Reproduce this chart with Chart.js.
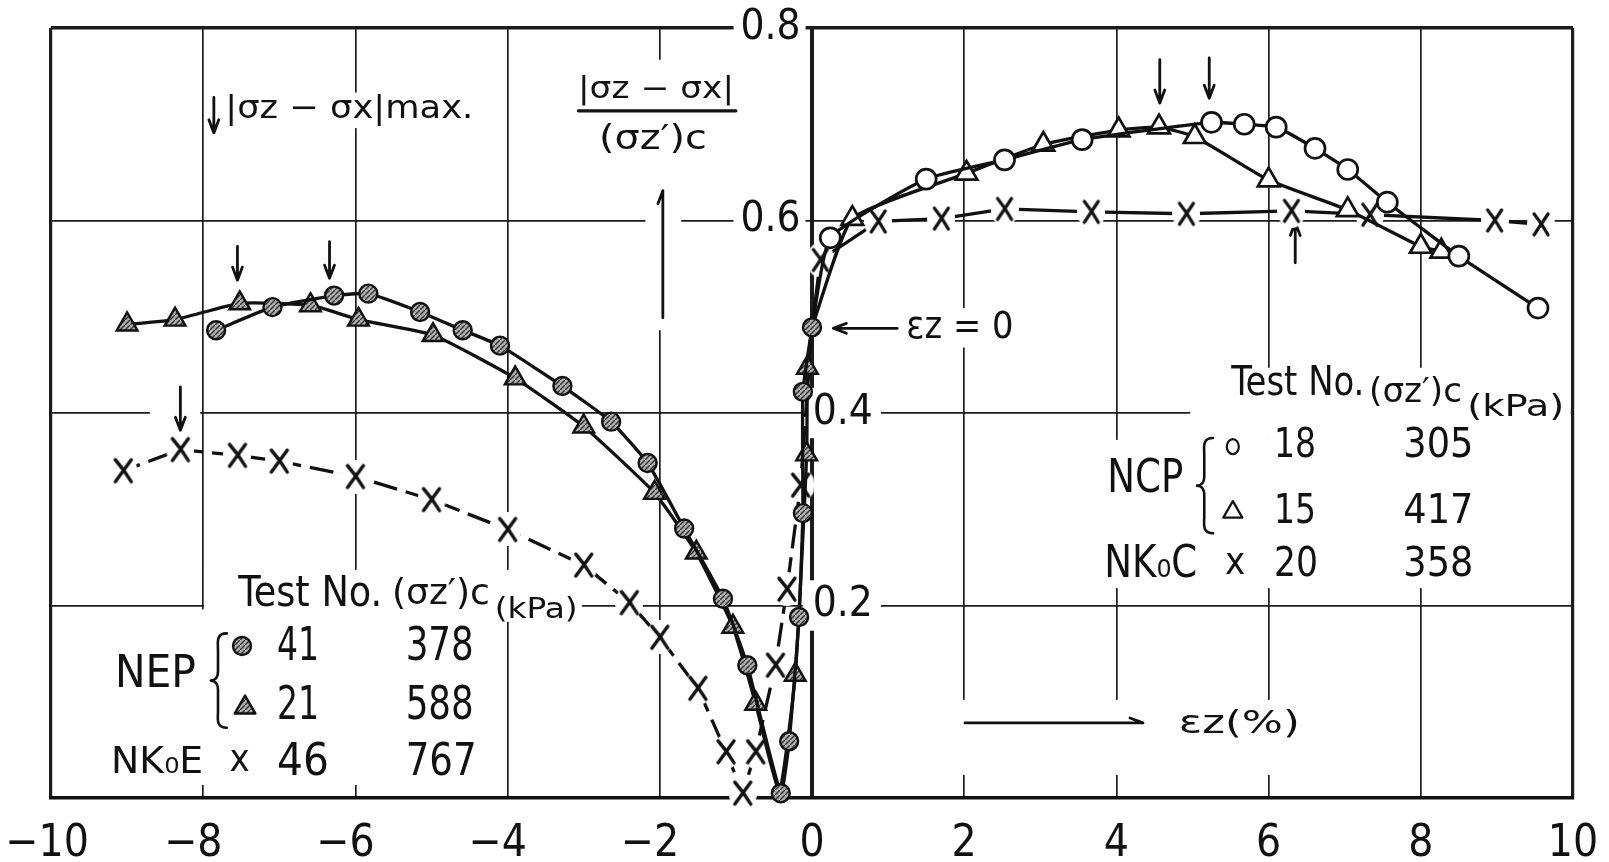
<!DOCTYPE html>
<html>
<head>
<meta charset="utf-8">
<script src="https://cdn.jsdelivr.net/npm/chart.js@4.4.1/dist/chart.umd.min.js"></script>
<style>
  html, body { margin: 0; padding: 0; background: #fff; }
  canvas { display: block; }
</style>
</head>
<body>
<canvas id="c" width="1609" height="862"></canvas>
<script>
// Axial strain εz (%) and |σz − σx| / (σz')c for each test.
// Extension tests run to negative strain, compression tests to positive strain.
const nep41X = [0, -0.12, -0.12, -0.17, -0.30, -0.41, -0.85, -1.17, -1.68, -2.16, -2.64, -3.28, -4.10, -4.59, -5.15, -5.83, -6.28, -7.09, -7.83];
const nep41Y = [0.489, 0.422, 0.296, 0.188, 0.059, 0.005, 0.138, 0.207, 0.280, 0.348, 0.391, 0.428, 0.470, 0.486, 0.505, 0.524, 0.522, 0.510, 0.486];

const nep21X = [0, -0.06, -0.07, -0.22, -0.43, -0.74, -1.04, -1.52, -2.07, -3.00, -3.90, -4.98, -5.96, -6.59, -7.52, -8.37, -9.00];
const nep21Y = [0.489, 0.447, 0.357, 0.128, 0.008, 0.098, 0.178, 0.255, 0.317, 0.386, 0.436, 0.481, 0.497, 0.512, 0.514, 0.497, 0.492];

const nk0eX = [0, -0.15, -0.33, -0.48, -0.74, -0.91, -1.13, -1.50, -2.00, -2.40, -3.00, -4.00, -5.00, -6.00, -7.00, -7.55, -8.30, -9.05];
const nk0eY = [0.489, 0.325, 0.217, 0.138, 0.048, 0.005, 0.048, 0.114, 0.167, 0.203, 0.242, 0.279, 0.310, 0.334, 0.350, 0.356, 0.362, 0.340];

const ncp18X = [0, 0.24, 1.50, 2.53, 3.55, 5.25, 5.68, 6.10, 6.61, 7.04, 7.56, 8.50, 9.54];
const ncp18Y = [0.489, 0.582, 0.643, 0.663, 0.684, 0.702, 0.700, 0.697, 0.675, 0.653, 0.619, 0.563, 0.509];

const ncp15X = [0, 0.53, 2.03, 3.04, 4.03, 4.56, 5.03, 6.00, 7.04, 8.00, 8.27];
const ncp15Y = [0.489, 0.602, 0.649, 0.679, 0.694, 0.697, 0.687, 0.642, 0.611, 0.573, 0.568];

const nk0cX = [0, 0.11, 0.87, 1.70, 2.53, 3.67, 4.92, 6.30, 7.33, 8.97, 9.58];
const nk0cY = [0.489, 0.559, 0.599, 0.602, 0.612, 0.609, 0.607, 0.610, 0.606, 0.600, 0.596];

// Axis ticks
const xTicks = [-10, -8, -6, -4, -2, 0, 2, 4, 6, 8, 10];
const yTicksLeft = ['0.6', '0.8'];
const yTicksRight = ['0.2', '0.4'];

// Legend tables: test type, test no., consolidation stress (kPa)
const legendE = [['NEP', '41', '378'], ['NEP', '21', '588'], ['NK₀E', '46', '767']];
const legendC = [['NCP', '18', '305'], ['NCP', '15', '417'], ['NK₀C', '20', '358']];

const FONT = "'Liberation Sans Narrow', 'DejaVu Sans Condensed', 'Liberation Sans', sans-serif";
const INK = '#111';
const GRID = '#1c1c1c';

const canvas = document.getElementById('c');
const ctx0 = canvas.getContext('2d');

// grey hatched fill for the extension-test symbols
function hatchPattern() {
  const t = document.createElement('canvas');
  t.width = 5; t.height = 5;
  const g = t.getContext('2d');
  g.fillStyle = '#b0b0b0';
  g.fillRect(0, 0, 5, 5);
  g.strokeStyle = '#333';
  g.lineWidth = 1.4;
  g.beginPath(); g.moveTo(-1, 6); g.lineTo(6, -1); g.stroke();
  return ctx0.createPattern(t, 'repeat');
}
const HATCH = hatchPattern();

// hand-lettered "x" symbol with a clear margin around it
function xMark(w, h, lw, halo) {
  const c = document.createElement('canvas');
  c.width = w + 2 * halo; c.height = h + 2 * halo;
  const g = c.getContext('2d');
  g.fillStyle = '#fff';
  g.beginPath();
  g.ellipse(c.width / 2, c.height / 2, c.width / 2, c.height / 2, 0, 0, Math.PI * 2);
  g.fill();
  g.strokeStyle = INK; g.lineWidth = lw; g.lineCap = 'round';
  g.beginPath();
  g.moveTo(halo, halo); g.quadraticCurveTo(halo + w * 0.55, halo + h * 0.45, halo + w, halo + h);
  g.moveTo(halo + w, halo); g.quadraticCurveTo(halo + w * 0.45, halo + h * 0.55, halo, halo + h);
  g.stroke();
  return c;
}
const X_E = xMark(16, 22, 3.4, 6);
const X_C = xMark(14, 21, 3.2, 7);

const pts = (xs, ys) => xs.map((x, i) => ({ x, y: ys[i] }));
const hideFirst = (r) => (c) => (c.dataIndex === 0 ? 0 : r);

const datasets = [
  { label: 'NEP 41', data: pts(nep41X, nep41Y), pointStyle: 'circle', pointRadius: 9,
    pointBackgroundColor: HATCH, pointBorderColor: INK, pointBorderWidth: 2.4, tension: 0.15 },
  { label: 'NEP 21', data: pts(nep21X, nep21Y), pointStyle: 'triangle',
    pointRadius: (c) => (c.dataIndex === 0 || c.dataIndex === 4 ? 0 : 12),
    pointBackgroundColor: HATCH, pointBorderColor: INK, pointBorderWidth: 2.4, tension: 0.15 },
  { label: 'NK0E 46', data: pts(nk0eX, nk0eY), pointStyle: X_E, pointRadius: hideFirst(6),
    borderDash: [24, 9], tension: 0 },
  { label: 'NCP 18', data: pts(ncp18X, ncp18Y), pointStyle: 'circle', pointRadius: hideFirst(10),
    pointBackgroundColor: '#fff', pointBorderColor: INK, pointBorderWidth: 2.7, tension: 0.15 },
  { label: 'NCP 15', data: pts(ncp15X, ncp15Y), pointStyle: 'triangle', pointRadius: hideFirst(12.5),
    pointBackgroundColor: '#fff', pointBorderColor: INK, pointBorderWidth: 2.7, tension: 0.15 },
  { label: 'NK0C 20', data: pts(nk0cX, nk0cY), pointStyle: X_C, pointRadius: hideFirst(6), tension: 0 }
].map((d) => Object.assign({ showLine: true, borderColor: INK, borderWidth: 3.3, clip: false,
  yAxisID: 'y', pointHoverRadius: 0 }, d));

// ---- hand-drawn annotations, placed in data coordinates ----
const masks = [ // [x1, y1, x2, y2] white-outs that interrupt the grid behind lettering
  [-9.88, 0.196, -4.36, 0.0135],
  [-7.99, 0.237, -3.02, 0.183],
  [4.97, 0.447, 9.97, 0.372],
  [3.78, 0.372, 9.97, 0.218],
  [1.88, 0.102, 6.54, 0.024],
  [0.21, 0.509, 2.73, 0.468],
  [-7.75, 0.733, -4.39, 0.696],
  [-3.15, 0.767, -0.95, 0.637],
  [-2.19, 0.637, -1.72, 0.486],
  [-8.70, 0.434, -8.04, 0.380]
];

const texts = [ // [text, x, y, font px, width px, align]
  ['|σz − σx|max.', -7.71, 0.715, 32, 248, 'left'],
  ['|σz − σx|', -2.05, 0.735, 30, 156, 'center'],
  ['(σz′)c', -2.09, 0.683, 34, 108, 'center'],
  ['εz = 0', 1.24, 0.488, 38, 107, 'left'],
  ['εz(%)', 4.82, 0.076, 32, 121, 'left'],
  // extension-test table
  ['Test No.', -7.54, 0.211, 42, 144, 'left'],
  ['(σz′)c', -5.52, 0.211, 36, 98, 'left'],
  ['(kPa)', -4.17, 0.195, 28, 83, 'left'],
  [legendE[0][0], -9.16, 0.127, 44, 81, 'left'],
  [legendE[0][1], -7.03, 0.156, 46, 42, 'left'],
  [legendE[0][2], -5.34, 0.156, 46, 68, 'left'],
  [legendE[1][1], -7.03, 0.095, 46, 42, 'left'],
  [legendE[1][2], -5.34, 0.095, 46, 68, 'left'],
  [legendE[2][0], -9.21, 0.036, 38, 92, 'left'],
  ['x', -7.52, 0.038, 38, 0, 'center'],
  [legendE[2][1], -7.03, 0.036, 44, 52, 'left'],
  [legendE[2][2], -5.34, 0.036, 44, 71, 'left'],
  // compression-test table
  ['Test No.', 5.51, 0.429, 40, 133, 'left'],
  ['(σz′)c', 7.32, 0.421, 34, 93, 'left'],
  ['(kPa)', 8.61, 0.405, 30, 97, 'left'],
  [legendC[0][0], 3.88, 0.330, 46, 76, 'left'],
  [legendC[0][1], 6.07, 0.365, 40, 42, 'left'],
  [legendC[0][2], 7.77, 0.365, 40, 70, 'left'],
  [legendC[1][1], 6.07, 0.297, 40, 42, 'left'],
  [legendC[1][2], 7.77, 0.297, 40, 70, 'left'],
  [legendC[2][0], 3.84, 0.241, 44, 93, 'left'],
  ['x', 5.56, 0.243, 38, 0, 'center'],
  [legendC[2][1], 6.07, 0.241, 40, 44, 'left'],
  [legendC[2][2], 7.77, 0.241, 40, 70, 'left']
];

const arrows = [ // [x1, y1, x2 (tip), y2 (tip), head: 'both' | 'half']
  [-7.86, 0.728, -7.86, 0.691, 'both'],
  [-7.55, 0.573, -7.55, 0.538, 'both'],
  [-6.34, 0.578, -6.34, 0.540, 'both'],
  [-8.30, 0.427, -8.30, 0.382, 'both'],
  [4.57, 0.767, 4.57, 0.722, 'both'],
  [5.22, 0.769, 5.22, 0.727, 'both'],
  [6.35, 0.556, 6.35, 0.598, 'both'],
  [1.12, 0.488, 0.28, 0.488, 'both'],
  [-1.96, 0.499, -1.96, 0.631, 'half'],
  [2.01, 0.078, 4.35, 0.078, 'half']
];

function fitText(ctx, s, px, py, size, width, align) {
  ctx.save();
  ctx.font = size + 'px ' + FONT;
  ctx.textBaseline = 'middle';
  ctx.textAlign = 'left';
  const m = ctx.measureText(s).width;
  const k = width ? width / m : 1;
  const left = align === 'center' ? px - (m * k) / 2 : px;
  ctx.translate(left, py);
  ctx.scale(k, 1);
  ctx.fillStyle = INK;
  ctx.fillText(s, 0, 0);
  ctx.restore();
}

function drawArrow(ctx, x1, y1, x2, y2, head) {
  const a = Math.atan2(y2 - y1, x2 - x1), L = 14, s = 0.36;
  ctx.beginPath();
  ctx.moveTo(x1, y1); ctx.lineTo(x2, y2);
  ctx.moveTo(x2 - L * Math.cos(a + s), y2 - L * Math.sin(a + s)); ctx.lineTo(x2, y2);
  if (head === 'both') ctx.lineTo(x2 - L * Math.cos(a - s), y2 - L * Math.sin(a - s));
  ctx.stroke();
}

function drawBrace(ctx, x, yTop, yBot, w) {
  const ym = (yTop + yBot) / 2, q = (ym - yTop);
  ctx.beginPath();
  ctx.moveTo(x, yTop);
  ctx.bezierCurveTo(x - w * 0.7, yTop, x - w * 0.55, yTop + q * 0.2, x - w * 0.55, yTop + q * 0.35);
  ctx.lineTo(x - w * 0.55, ym - q * 0.2);
  ctx.bezierCurveTo(x - w * 0.55, ym - q * 0.05, x - w * 0.8, ym, x - w, ym);
  ctx.bezierCurveTo(x - w * 0.8, ym, x - w * 0.55, ym + q * 0.05, x - w * 0.55, ym + q * 0.2);
  ctx.lineTo(x - w * 0.55, yBot - q * 0.35);
  ctx.bezierCurveTo(x - w * 0.55, yBot - q * 0.2, x - w * 0.7, yBot, x, yBot);
  ctx.stroke();
}

function drawTri(ctx, x, y, r) {
  ctx.beginPath();
  for (let i = 0; i < 3; i++) {
    const t = i * 2 * Math.PI / 3;
    const px = x + Math.sin(t) * r, py = y - Math.cos(t) * r;
    if (i === 0) ctx.moveTo(px, py); else ctx.lineTo(px, py);
  }
  ctx.closePath();
}

const notes = {
  id: 'notes',
  beforeDatasetsDraw(chart) {
    const ctx = chart.ctx, sx = chart.scales.x, sy = chart.scales.y;
    const X = (v) => sx.getPixelForValue(v), Y = (v) => sy.getPixelForValue(v);
    ctx.save();
    ctx.fillStyle = '#fff';
    masks.forEach(([a, b, c, d]) => ctx.fillRect(X(a), Y(b), X(c) - X(a), Y(d) - Y(b)));

    ctx.strokeStyle = INK; ctx.lineWidth = 2.8; ctx.lineCap = 'round'; ctx.lineJoin = 'round';
    arrows.forEach(([a, b, c, d, h]) => drawArrow(ctx, X(a), Y(b), X(c), Y(d), h));

    // fraction bar of the ordinate label
    ctx.lineWidth = 3.2;
    ctx.beginPath(); ctx.moveTo(X(-3.07), Y(0.714)); ctx.lineTo(X(-1.00), Y(0.714)); ctx.stroke();

    // braces grouping the NEP and NCP rows
    ctx.lineWidth = 2.6;
    drawBrace(ctx, X(-7.69), Y(0.171), Y(0.073), X(-7.69) - X(-7.90));
    drawBrace(ctx, X(5.27), Y(0.374), Y(0.275), X(5.27) - X(5.06));

    texts.forEach(([s, a, b, size, w, al]) => fitText(ctx, s, X(a), Y(b), size, w, al));

    // table symbols
    ctx.lineWidth = 2.4;
    ctx.fillStyle = HATCH;
    ctx.beginPath(); ctx.arc(X(-7.49), Y(0.158), 9, 0, Math.PI * 2); ctx.fill(); ctx.stroke();
    drawTri(ctx, X(-7.45), Y(0.094), 12); ctx.fill(); ctx.stroke();
    ctx.lineWidth = 2.2;
    ctx.beginPath(); ctx.ellipse(X(5.53), Y(0.365), 6, 7.5, 0, 0, Math.PI * 2); ctx.stroke();
    drawTri(ctx, X(5.53), Y(0.297), 11); ctx.stroke();
    ctx.restore();
  }
};

const near = (v, s) => Math.abs(v - parseFloat(s)) < 1e-6;
const yLabel = (list) => (v) => { const hit = list.find((s) => near(v, s)); return hit || ''; };
const backdrop = (c) => (c.tick && c.tick.label ? '#fff' : 'rgba(0,0,0,0)');

new Chart(canvas, {
  type: 'scatter',
  data: { datasets },
  plugins: [notes],
  options: {
    responsive: false,
    animation: false,
    devicePixelRatio: 1,
    events: [],
    layout: { padding: { left: 51, right: 36, top: 28, bottom: 0 } },
    plugins: { legend: { display: false }, tooltip: { enabled: false } },
    scales: {
      x: {
        type: 'linear', min: xTicks[0], max: xTicks[xTicks.length - 1],
        afterBuildTicks: (s) => { s.ticks = xTicks.map((v) => ({ value: v })); },
        // the end labels may run into the margin; keep the frame where it is
        afterFit: (s) => { s.height = 64; s.paddingLeft = 0; s.paddingRight = 0; },
        ticks: { font: { family: FONT, size: 44 }, color: INK, padding: 20,
                 // negative labels sit a little left of their grid line, as lettered
                 callback: (v) => (v < 0 ? '−' + Math.abs(v) + (v === -10 ? '\u2009' : '\u2002') : String(v)) },
        grid: { color: GRID, drawTicks: false,
                lineWidth: (c) => (c.tick.value === 0 ? 4 : (Math.abs(c.tick.value) === 10 ? 3.2 : 1.7)) },
        border: { display: true, color: INK, width: 3.4 }
      },
      y: {
        type: 'linear', axis: 'y', min: 0, max: 0.8, position: { x: -0.15 },
        ticks: { stepSize: 0.2, padding: 0, font: { family: FONT, size: 42 }, color: INK,
                 callback: yLabel(yTicksLeft),
                 showLabelBackdrop: true, backdropColor: backdrop,
                 backdropPadding: { left: 7, right: 5, top: 0, bottom: 0 } },
        grid: { color: GRID, drawTicks: false,
                lineWidth: (c) => (c.tick.value > 0.79 ? 3.4 : (c.tick.value < 0.01 ? 0 : 1.7)) },
        border: { display: false }
      },
      y2: {
        type: 'linear', axis: 'y', min: 0, max: 0.8, position: { x: 0.8 },
        ticks: { stepSize: 0.2, padding: 0, font: { family: FONT, size: 42 }, color: INK,
                 callback: yLabel(yTicksRight),
                 showLabelBackdrop: true, backdropColor: backdrop,
                 backdropPadding: { left: 10, right: 8, top: 0, bottom: 0 } },
        grid: { display: false },
        border: { display: false }
      }
    }
  }
});
</script>
</body>
</html>
